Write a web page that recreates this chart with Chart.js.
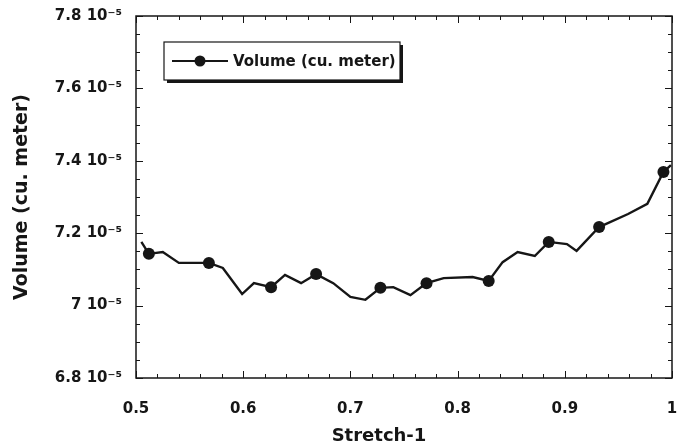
<!DOCTYPE html>
<html>
<head>
<meta charset="utf-8">
<script src="https://cdn.jsdelivr.net/npm/chart.js@4.4.0/dist/chart.umd.min.js"></script>
<style>
html, body { margin: 0; padding: 0; background: #fff; }
#wrap { width: 687px; height: 448px; }
</style>
</head>
<body>
<div id="wrap"><canvas id="myChart" width="687" height="448"></canvas></div>
<script>
var ctx = document.getElementById("myChart").getContext('2d');

// values, volume in units of 1e-5 cu. meter
var stretch = [0.505, 0.512, 0.525, 0.540, 0.568, 0.581, 0.599, 0.610, 0.626, 0.639, 0.654,
    0.668, 0.684, 0.700, 0.714, 0.728, 0.740, 0.756, 0.771, 0.787, 0.814, 0.829,
    0.842, 0.856, 0.872, 0.885, 0.902, 0.911, 0.932, 0.959, 0.977, 0.992, 0.999];
var volume = [7.176, 7.143, 7.148, 7.118, 7.118, 7.104, 7.032, 7.062, 7.051, 7.085, 7.062,
    7.087, 7.062, 7.024, 7.016, 7.049, 7.051, 7.029, 7.062, 7.076, 7.079, 7.068,
    7.120, 7.148, 7.137, 7.176, 7.170, 7.151, 7.217, 7.253, 7.281, 7.369, 7.388];
// points that carry a dot marker
var markedPoints = [1, 4, 8, 11, 15, 18, 21, 25, 28, 31];

var seriesLabel = 'Volume (cu. meter)';
var xTitle = 'Stretch-1';
var yTitle = 'Volume (cu. meter)';

var ink = '#161616';
var boldFont = function (size) {
    return { family: 'DejaVu Sans', weight: 'bold', size: size };
};

function yTickLabel(v) {
    var r = Math.round(v * 10) / 10;
    return (r % 1 === 0 ? r.toFixed(0) : r.toFixed(1)) + ' 10\u207B\u2075';
}

function xTickLabel(v) {
    var r = Math.round(v * 10) / 10;
    return r === 1 ? '1' : r.toFixed(1);
}

var framePlugin = {
    id: 'frame',
    afterDraw: function (chart) {
        var c = chart.ctx, a = chart.chartArea;
        var xs = chart.scales.x, ys = chart.scales.y;
        c.save();
        c.strokeStyle = ink;
        c.lineWidth = 1.5;
        c.strokeRect(a.left, a.top, a.right - a.left, a.bottom - a.top);

        c.lineWidth = 1;
        c.beginPath();
        var i, px, py, len;
        for (i = 0; i <= 25; i++) {
            px = Math.round(xs.getPixelForValue(0.5 + i * 0.02)) + 0.5;
            len = (i % 5 === 0) ? 7 : 4;
            c.moveTo(px, a.bottom); c.lineTo(px, a.bottom - len);
            c.moveTo(px, a.top); c.lineTo(px, a.top + len);
        }
        for (i = 0; i <= 20; i++) {
            py = Math.round(ys.getPixelForValue(6.8 + i * 0.05)) + 0.5;
            len = (i % 4 === 0) ? 7 : 4;
            c.moveTo(a.left, py); c.lineTo(a.left + len, py);
            c.moveTo(a.right, py); c.lineTo(a.right - len, py);
        }
        c.stroke();

        // x title, sits left of the plot centre in the original
        c.fillStyle = ink;
        c.font = 'bold 18px "DejaVu Sans"';
        c.textAlign = 'center';
        c.textBaseline = 'middle';
        c.fillText(xTitle, 379, 436);

        // legend box with drop shadow
        var bx = 164, by = 42, bw = 236, bh = 38;
        c.fillStyle = ink;
        c.fillRect(bx + 3, by + 3, bw, bh);
        c.fillStyle = '#fff';
        c.fillRect(bx, by, bw, bh);
        c.lineWidth = 1.2;
        c.strokeRect(bx, by, bw, bh);
        var ly = by + bh / 2;
        c.lineWidth = 2;
        c.beginPath();
        c.moveTo(bx + 8, ly); c.lineTo(bx + 64, ly);
        c.stroke();
        c.fillStyle = ink;
        c.beginPath();
        c.arc(bx + 36, ly, 5.5, 0, Math.PI * 2);
        c.fill();
        c.font = 'bold 15px "DejaVu Sans"';
        c.textAlign = 'left';
        c.fillText(chart.data.datasets[0].label, bx + 69, ly + 1);
        c.restore();
    }
};

var mychart = new Chart(ctx, {
    type: 'line',
    data: {
        datasets: [{
            label: seriesLabel,
            data: stretch.map(function (x, i) { return { x: x, y: volume[i] }; }),
            borderColor: ink,
            borderWidth: 2.4,
            tension: 0,
            pointRadius: function (c) { return markedPoints.indexOf(c.dataIndex) >= 0 ? 6 : 0; },
            pointBackgroundColor: ink,
            pointBorderWidth: 0
        }]
    },
    options: {
        responsive: false,
        animation: false,
        layout: { padding: { top: 16, right: 15, left: 0, bottom: 0 } },
        plugins: { legend: { display: false }, tooltip: { enabled: false } },
        scales: {
            x: {
                type: 'linear', min: 0.5, max: 1,
                afterFit: function (s) { s.height = 70; s.paddingLeft = 0; s.paddingRight = 0; },
                grid: { display: false, drawTicks: false },
                border: { display: false },
                ticks: { stepSize: 0.1, padding: 22, color: ink, font: boldFont(15), callback: xTickLabel, maxRotation: 0 }
            },
            y: {
                min: 6.8, max: 7.8,
                afterFit: function (s) { s.width = 136; s.paddingTop = 0; s.paddingBottom = 0; },
                grid: { display: false, drawTicks: false },
                border: { display: false },
                ticks: { stepSize: 0.2, padding: 14, color: ink, font: boldFont(15), callback: yTickLabel },
                title: { display: true, text: yTitle, color: ink, font: boldFont(19), padding: { top: 11, bottom: 0 } }
            }
        }
    },
    plugins: [framePlugin]
});
</script>
</body>
</html>
